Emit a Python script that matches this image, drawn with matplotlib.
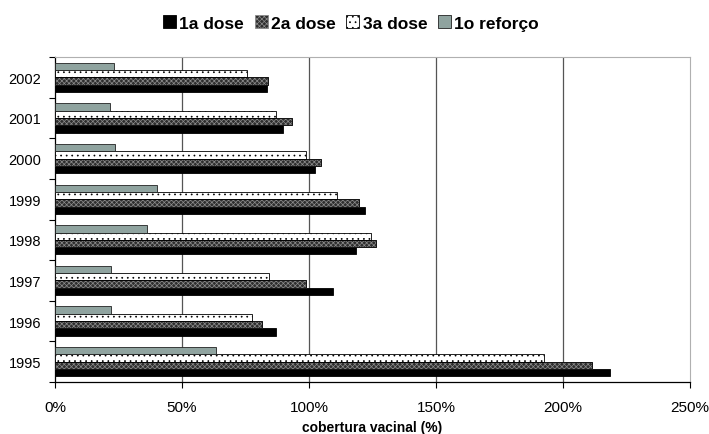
import numpy as np
import matplotlib.pyplot as plt
from matplotlib.ticker import FuncFormatter, FixedLocator

plt.rcParams['font.family'] = ['Liberation Sans', 'DejaVu Sans']
plt.rcParams['hatch.linewidth'] = 0.5

anos = ['1995', '1996', '1997', '1998', '1999', '2000', '2001', '2002']
dose1 = [218.6, 87.0, 109.6, 118.5, 122.0, 102.4, 89.9, 83.3]
dose2 = [211.5, 81.5, 99.0, 126.4, 119.7, 104.6, 93.2, 83.7]
dose3 = [192.6, 77.7, 84.3, 124.4, 111.1, 98.9, 86.9, 75.5]
reforco = [63.3, 22.0, 22.0, 36.3, 40.3, 23.7, 21.5, 23.2]

fig = plt.figure(figsize=(7.09, 4.35), dpi=100)
ax = fig.add_axes([0.0776, 0.1195, 0.8956, 0.7472])

y = np.arange(len(anos))
h = 0.18

b1 = ax.barh(y - 1.5*h, dose1, h, color='black', edgecolor='black', lw=0.6, label='1a dose', zorder=3)
b2 = ax.barh(y - 0.5*h, dose2, h, color='#2e2e2e', edgecolor='black', lw=0.6, label='2a dose',
             hatch='xxxxxxx', zorder=3)
for p in b2:
    p.set_edgecolor('#8c8c8c')
# contorno preto por cima do padrão da 2a dose
ax.barh(y - 0.5*h, dose2, h, color='none', edgecolor='black', lw=0.6, zorder=3.6)
b3 = ax.barh(y + 0.5*h, dose3, h, color='white', edgecolor='black', hatch='...', lw=0.6,
             label='3a dose', zorder=3)
b4 = ax.barh(y + 1.5*h, reforco, h, color='#8fa39f', edgecolor='#222222', lw=0.6, label='1o reforço', zorder=3)

ax.set_xlim(0, 250)
ax.set_ylim(-0.5, len(anos) - 0.5)
ax.set_xticks([0, 50, 100, 150, 200, 250])
ax.xaxis.set_major_formatter(FuncFormatter(lambda v, p: f'{v:.0f}%'))
ax.tick_params(axis='x', direction='out', length=4, width=0.8, pad=9, labelsize=11)

ax.yaxis.set_major_locator(FixedLocator(np.arange(-0.5, len(anos), 1.0)))
ax.yaxis.set_major_formatter(FuncFormatter(lambda v, p: ''))
ax.yaxis.set_minor_locator(FixedLocator(y))
ax.set_yticklabels(anos, minor=True)
ax.tick_params(axis='y', which='major', direction='out', length=4, width=0.8)
ax.tick_params(axis='y', which='minor', length=0, pad=10, labelsize=10.5)

for v in [50, 100, 150, 200]:
    ax.axvline(v, color='#555555', lw=0.9, zorder=1)

ax.spines['top'].set_color('#b0b0b0')
ax.spines['right'].set_color('#b0b0b0')
ax.spines['left'].set_linewidth(0.9)
ax.spines['bottom'].set_linewidth(0.9)

ax.set_xlabel('cobertura vacinal (%)', fontsize=10, fontweight='bold', labelpad=4)

fig.legend(handles=[b1, b2, b3, b4], loc='center', bbox_to_anchor=(0.495, 0.945), ncol=4,
           frameon=False, prop={'weight': 'bold', 'size': 12.5}, handlelength=0.75,
           handleheight=0.75, handletextpad=0.2, columnspacing=0.6)

fig.savefig('out.png', dpi=100)
